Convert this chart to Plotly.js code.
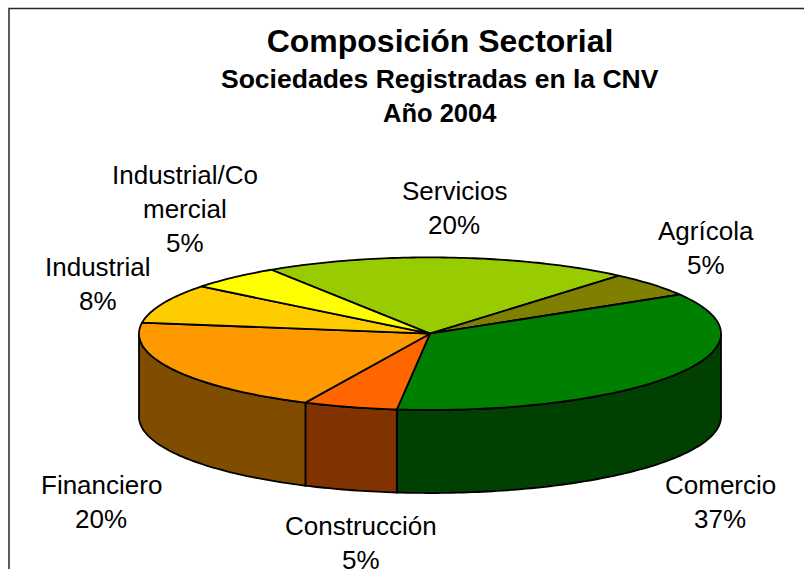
<!DOCTYPE html>
<html><head><meta charset="utf-8">
<script src="https://cdn.plot.ly/plotly-3.0.1.min.js"></script>
<style>html,body{margin:0;padding:0;background:#fff}#c{width:804px;height:569px}</style>
</head><body><div id="c"></div>
<script>
// Data, clockwise from the top of the pie
const sectors = ['Servicios','Agrícola','Comercio','Construcción','Financiero','Industrial','Industrial/Comercial'];
const shares = [20, 5.2, 36.5, 5.3, 20, 8, 5];
const topColors = ['#99CC00','#808000','#008000','#FF6600','#FF9900','#FFCC00','#FFFF00'];
const wallColors = ['#4D6600','#404000','#004000','#803300','#804D00','#806600','#808000'];
const labelLines = [['Servicios'],['Agrícola'],['Comercio'],['Construcción'],['Financiero'],['Industrial'],['Industrial/Co','mercial']];
const titleMain = 'Composición Sectorial';
const titleSub = 'Sociedades Registradas en la CNV';
const titleYear = 'Año 2004';

// Pie geometry, in the pixel units of the hidden axes
const geo = {cx:430, cy:333.7, rx:291, ry:76.3, depth:83, start:-33.7, skewAmp:2.2, skewPhase:40};
const labelPos = [[454,191],[706,231],[720,485],[361,526],[101,485],[98,267],[185,175]];
const lineGap = 34;
const FONT = 'Liberation Sans, Arial, sans-serif';

const total = shares.reduce((a,b)=>a+b,0);
const px = d => geo.cx + geo.rx*Math.sin(d*Math.PI/180);
const py = (d,z) => geo.cy - geo.ry*Math.cos(d*Math.PI/180) + (z||0);
// The tilted view shifts slice edges slightly around the rim
const view = d => d + geo.skewAmp*Math.cos((d-geo.skewPhase)*Math.PI/180);
function arc(a,b,z){const n=Math.max(2,Math.ceil(Math.abs(b-a))),xs=[],ys=[];
  for(let i=0;i<=n;i++){const t=a+(b-a)*i/n;xs.push(px(t));ys.push(py(t,z));}return [xs,ys];}

const edges=[];let acc=geo.start;
shares.forEach(v=>{const next=acc+v/total*360;edges.push([view(acc),view(next)]);acc=next;});

const poly=(x,y,color)=>({type:'scatter',mode:'lines',x,y,fill:'toself',fillcolor:color,
  line:{color:'#000',width:1.8,simplify:false},hoverinfo:'skip',showlegend:false});
const traces=[];
// Visible side wall: the front half of the rim
edges.forEach(([a,b],i)=>{
  for(const off of [0,360]){
    const s=Math.max(a+off,90),e=Math.min(b+off,270);
    if(e<=s) continue;
    const t=arc(s,e,0),u=arc(e,s,geo.depth);
    traces.push(poly(t[0].concat(u[0],[t[0][0]]),t[1].concat(u[1],[t[1][0]]),wallColors[i]));
  }
});
// Top faces
edges.forEach(([a,b],i)=>{
  const t=arc(a,b,0);
  traces.push(poly([geo.cx].concat(t[0],[geo.cx]),[geo.cy].concat(t[1],[geo.cy]),topColors[i]));
});

const text=(x,y,s,size,bold)=>({xref:'x',yref:'y',x,y,text:bold?'<b>'+s+'</b>':s,showarrow:false,
  xanchor:'center',yanchor:'middle',font:{family:FONT,size,color:'#000'}});
const ann=[text(440,79,titleSub,26.5,true),text(440,113,titleYear,25.5,true)];
sectors.forEach((_,i)=>{
  const lines=labelLines[i].concat([Math.round(shares[i])+'%']);
  lines.forEach((l,j)=>ann.push(text(labelPos[i][0],labelPos[i][1]+j*lineGap,l,26,false)));
});

const layout={width:804,height:569,margin:{l:0,r:0,t:0,b:0,pad:0},paper_bgcolor:'#fff',plot_bgcolor:'#fff',
  showlegend:false,hovermode:false,
  title:{text:'<b>'+titleMain+'</b>',font:{family:FONT,size:32,color:'#000'},x:440/804,xref:'paper',xanchor:'center',y:1-41/569,yref:'paper',yanchor:'middle'},
  xaxis:{range:[0,804],visible:false,fixedrange:true},
  yaxis:{range:[569,0],visible:false,fixedrange:true},
  annotations:ann,
  shapes:[{type:'path',xref:'x',yref:'y',path:'M9,569 L9,8.5 L804,8.5',line:{color:'#262626',width:1.5}}]};
Plotly.newPlot('c',traces,layout,{displayModeBar:false,staticPlot:true});
</script></body></html>
